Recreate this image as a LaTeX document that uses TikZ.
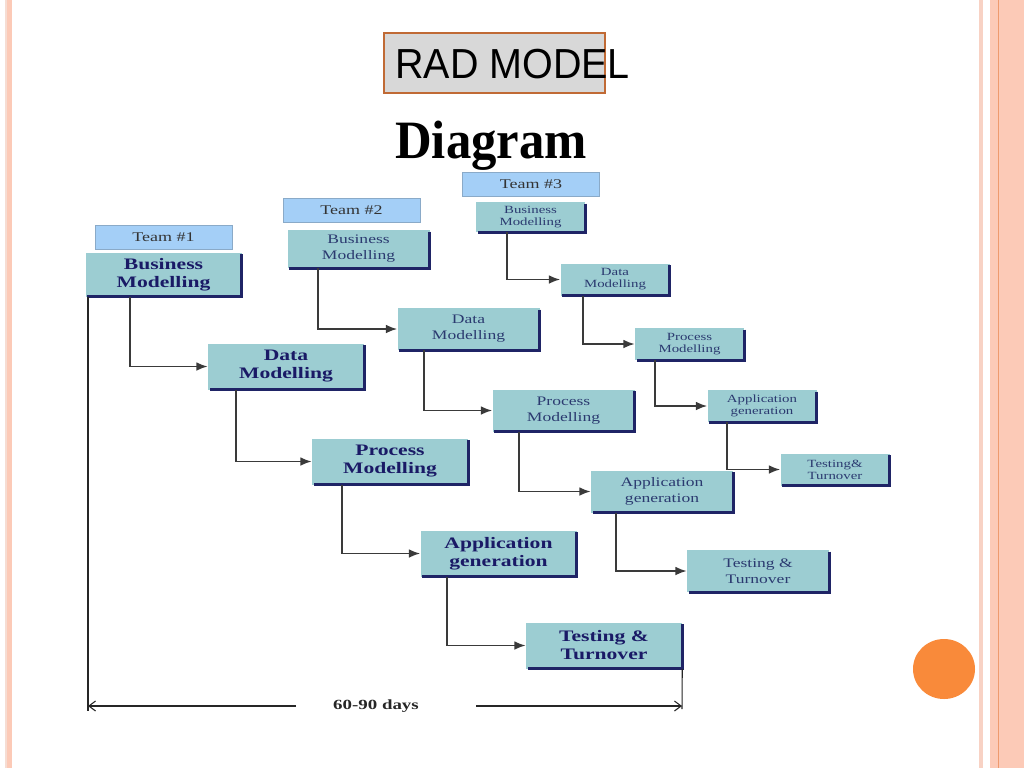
\documentclass[tikz,border=0pt]{standalone}
\usepackage{fontspec}
\usetikzlibrary{arrows.meta,calc}
\newfontfamily\bxfont[FakeStretch=1.35]{Liberation Serif}
\newfontfamily\titlefont[FakeStretch=0.94]{Liberation Sans}
\newfontfamily\diagfont[FakeStretch=0.94]{Liberation Serif}
\definecolor{teamblue}{HTML}{A4CFF7}
\definecolor{teamedge}{HTML}{8AAAC8}
\definecolor{procfill}{HTML}{9CCDD2}
\definecolor{shade}{HTML}{1F2466}
\definecolor{boldtxt}{HTML}{1A1A66}
\definecolor{regtxt}{HTML}{2B3A70}
\definecolor{linegray}{HTML}{3A3A3A}
\definecolor{salmon}{HTML}{FCCAB7}
\definecolor{salmonlt}{HTML}{F8D2C4}
\definecolor{lpink}{HTML}{F6DDD3}
\definecolor{orangeline}{HTML}{EE9A6E}
\definecolor{circ}{HTML}{F98A3A}
\definecolor{titlefill}{HTML}{D8D8D8}
\definecolor{titleedge}{HTML}{C06A35}
\begin{document}
\begin{tikzpicture}[x=0.75pt,y=-0.75pt,
  team/.style={fill=teamblue, draw=teamedge, line width=0.5pt, minimum width=102.75pt, minimum height=18pt, inner sep=0pt,
    font=\bxfont\fontsize{10}{11}\selectfont, text=black!80},
  proc/.style={fill=procfill, inner sep=0pt, align=center},
  one/.style={proc, minimum width=117pt, minimum height=34.5pt, font=\bxfont\bfseries\fontsize{12}{13.5}\selectfont, text=boldtxt},
  two/.style={proc, minimum width=106.5pt, minimum height=31.5pt, font=\bxfont\fontsize{9.75}{12}\selectfont, text=regtxt},
  three/.style={proc, minimum width=81.75pt, minimum height=24pt, font=\bxfont\fontsize{8.25}{9}\selectfont, text=regtxt},
  shadowline/.style={draw=shade, line width=2.3pt},
  conn/.style={draw=linegray, line width=1.3pt, -{Latex[length=8.5pt,width=6.5pt]}},
  tline/.style={draw=black!85, line width=0.8pt},
  barb/.style={-{Straight Barb[length=5pt,width=7.5pt]}}
]
\useasboundingbox (0,0) rectangle (1024,768);
\fill[white] (0,0) rectangle (1024,768);
% slide borders
\fill[lpink] (5,0) rectangle (7,768);
\fill[salmon] (7,0) rectangle (12,768);
\fill[salmonlt] (979,0) rectangle (983,768);
\fill[salmon] (990,0) rectangle (1024,768);
\draw[orangeline, line width=0.9pt] (998.5,0) -- (998.5,768);
\fill[circ] (944,669) ellipse [x radius=31, y radius=30];

% title
\node[draw=titleedge, fill=titlefill, line width=1.6pt, minimum width=165.75pt, minimum height=45pt, inner sep=0pt] (tbox) at (494.5,63) {};
\node[anchor=base west, inner sep=0pt, font=\titlefont\fontsize{31.5}{34}\selectfont] (title) at (395,78) {RAD MODEL};
\node[anchor=base west, inner sep=0pt, font=\diagfont\bfseries\fontsize{40.5}{44}\selectfont] (diag) at (395,158) {Diagram};

% team labels
\node[team] (t1) at (163.5,237.5) {Team \#1};
\node[team] (t2) at (351.5,210) {Team \#2};
\node[team] (t3) at (531,184) {Team \#3};

% team 1
\node[one, minimum height=33pt] (bm1) at (163.5,274.5) {Business\\Modelling};
\node[one] (dm1) at (286,366.5) {Data\\Modelling};
\node[one] (pm1) at (390,461.5) {Process\\Modelling};
\node[one] (ag1) at (498.5,553.5) {Application\\generation};
\node[one] (tt1) at (604,645.5) {Testing \&\\Turnover};

% team 2
\node[two, minimum height=28.5pt] (bm2) at (358.5,249) {Business\\Modelling};
\node[two] (dm2) at (468.5,329) {Data\\Modelling};
\node[two] (pm2) at (563.5,410.5) {Process\\Modelling};
\node[two] (ag2) at (662,491.5) {Application\\generation};
\node[two] (tt2) at (758,571) {Testing \&\\Turnover};

% team 3
\node[three, minimum height=22.5pt] (bm3) at (530.5,217) {Business\\Modelling};
\node[three] (dm3) at (615,279.5) {Data\\Modelling};
\node[three] (pm3) at (689.5,344) {Process\\Modelling};
\node[three] (ag3) at (762,406) {Application\\generation};
\node[three] (tt3) at (835,469.5) {Testing\&\\Turnover};

\foreach \n in {bm1,dm1,pm1,ag1,tt1,bm2,dm2,pm2,ag2,tt2,bm3,dm3,pm3,ag3,tt3}
  \draw[shadowline] ([yshift=-1.5pt]\n.north east) -- (\n.south east) -- ([xshift=1.5pt]\n.south west);

% connectors team 1
\draw[conn] ($(bm1.south west)+(45,0)$) |- (dm1.west);
\draw[conn] ($(dm1.south west)+(28,0)$) |- (pm1.west);
\draw[conn] ($(pm1.south west)+(30,0)$) |- (ag1.west);
\draw[conn] ($(ag1.south west)+(27,0)$) |- (tt1.west);
% team 2
\draw[conn] ($(bm2.south west)+(31,0)$) |- (dm2.west);
\draw[conn] ($(dm2.south west)+(27,0)$) |- (pm2.west);
\draw[conn] ($(pm2.south west)+(27,0)$) |- (ag2.west);
\draw[conn] ($(ag2.south west)+(25,0)$) |- (tt2.west);
% team 3
\draw[conn] ($(bm3.south west)+(31,0)$) |- (dm3.west);
\draw[conn] ($(dm3.south west)+(23,0)$) |- (pm3.west);
\draw[conn] ($(pm3.south west)+(20,0)$) |- (ag3.west);
\draw[conn] ($(ag3.south west)+(20,0)$) |- (tt3.west);

% timeline
\coordinate (lb) at (88,706);
\coordinate (rb) at (682,706);
\coordinate (lbot) at (88,711);
\coordinate (rbot) at (682,709);
\coordinate (la) at (296,706);
\coordinate (ra) at (476,706);
\node[inner sep=0pt, font=\bxfont\bfseries\fontsize{10.5}{12}\selectfont, text=black!85] (days) at (376,706) {60-90 days};
\draw[tline] (lb |- bm1.south) -- (lbot);
\draw[tline] (tt1.south east) -- (rbot);
\draw[tline, barb] (la) -- (lb);
\draw[tline, barb] (ra) -- (rb);
\end{tikzpicture}
\end{document}
